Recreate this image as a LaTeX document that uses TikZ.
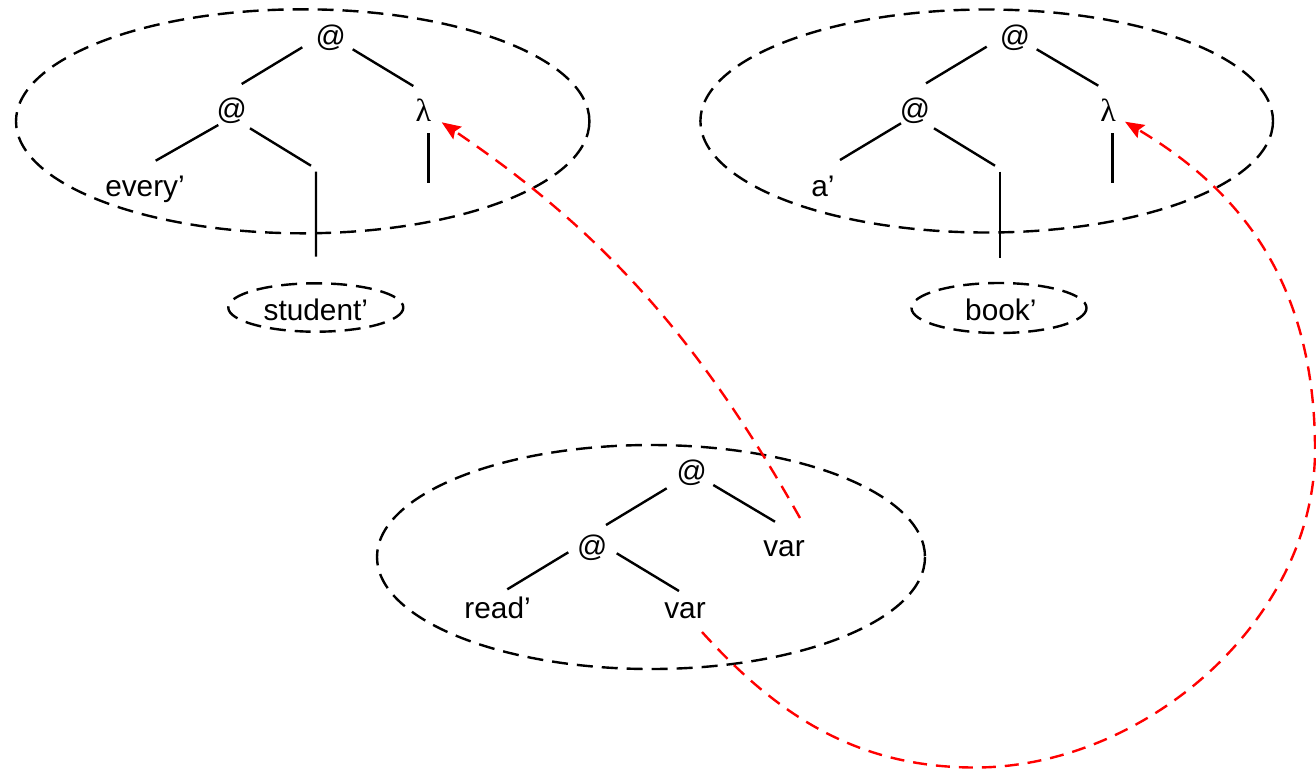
\documentclass[tikz,border=0pt]{standalone}
\usepackage{fontspec}
\setmainfont{Liberation Sans}
\newfontfamily\greekserif{Liberation Serif}
\usetikzlibrary{arrows.meta}

\begin{document}
\begin{tikzpicture}[x=0.5pt,y=-0.5pt,
  lbl/.style={anchor=base,inner sep=0pt,font=\fontsize{14.9}{17}\selectfont},
  lam/.style={anchor=base,inner sep=0pt,font=\fontsize{16}{18}\greekserif},
  branch/.style={line width=1.2pt},
  scopebox/.style={draw,line width=1.2pt,dash pattern=on 8pt off 4.5pt},
  bind/.style={draw=red,line width=1.2pt,dash pattern=on 7pt off 4.5pt,
    -{Stealth[length=9.5pt,width=7.5pt,inset=1.5pt]}}]
\path[use as bounding box] (0,0) rectangle (1316,772);

% ---------- every' student' ----------
\node[lbl] (Lr) at (330.8,46) {@};
\node[lbl] (La) at (231.7,119.5) {@};
\node[lam] (Ll) at (423.3,121) {λ};
\node[lbl] (Le) at (145,196.7) {every’};
\coordinate (Lh) at (316,170);
\node[lbl] (Ls) at (315.8,320.7) {student’};

\draw[branch] ([shift={(-28.5,1.3)}]Lr.base) -- ([shift={(10,-35.5)}]La.base);
\draw[branch] ([shift={(21.9,3.3)}]Lr.base) -- ([shift={(-10,-35)}]Ll.base);
\draw[branch] ([shift={(-13.4,5.5)}]La.base) -- ([shift={(10.7,-36)}]Le.base);
\draw[branch] ([shift={(18.3,8.8)}]La.base) -- ([shift={(-5,-4.3)}]Lh);
\draw[branch] ([shift={(0,1.7)}]Lh) -- ([shift={(0.2,-64)}]Ls.base);
\draw[branch] ([shift={(5,12.3)}]Ll.base) -- ++(0,50);

\draw[scopebox] (302.7,121.3) ellipse [x radius=286.7, y radius=112];
\draw[scopebox] ([shift={(0,-13.2)}]Ls.base) ellipse [x radius=87.5, y radius=24.2];

% ---------- a' book' ----------
\node[lbl] (Rr) at (1015,46) {@};
\node[lbl] (Ra) at (915,119.5) {@};
\node[lam] (Rl) at (1108,121) {λ};
\node[lbl] (Re) at (823,196.7) {a’};
\coordinate (Rh) at (1000,170);
\node[lbl] (Rs) at (1000.8,320) {book’};

\draw[branch] ([shift={(-28.3,0.7)}]Rr.base) -- ([shift={(11,-36.2)}]Ra.base);
\draw[branch] ([shift={(21.7,3.3)}]Rr.base) -- ([shift={(-9.7,-35.3)}]Rl.base);
\draw[branch] ([shift={(-14,3.8)}]Ra.base) -- ([shift={(17,-36.7)}]Re.base);
\draw[branch] ([shift={(19,8.8)}]Ra.base) -- ([shift={(-5,-4.3)}]Rh);
\draw[branch] ([shift={(0,1.7)}]Rh) -- ([shift={(-0.8,-61.7)}]Rs.base);
\draw[branch] ([shift={(4.3,12.3)}]Rl.base) -- ++(0,50);

\draw[scopebox] (986.7,121) ellipse [x radius=286.3, y radius=111.5];
\draw[scopebox] ([shift={(-1.8,-12)}]Rs.base) ellipse [x radius=87.5, y radius=25];

% ---------- read' var var ----------
\node[lbl] (Br) at (691.7,481) {@};
\node[lbl] (Ba) at (592.2,556.5) {@};
\node[lbl] (Bv) at (784,556.7) {var};
\node[lbl] (Bd) at (497.6,618.3) {read’};
\node[lbl] (Bw) at (685,618.3) {var};

\draw[branch] ([shift={(-25,7.3)}]Br.base) -- ([shift={(13.8,-31.5)}]Ba.base);
\draw[branch] ([shift={(21.6,4)}]Br.base) -- ([shift={(-9,-35)}]Bv.base);
\draw[branch] ([shift={(-23.9,-4.2)}]Ba.base) -- ([shift={(9.7,-29)}]Bd.base);
\draw[branch] ([shift={(24.5,-3.2)}]Ba.base) -- ([shift={(-6,-27.3)}]Bw.base);

\draw[scopebox] (651,557) ellipse [x radius=274, y radius=112];

% ---------- variable bindings ----------
\draw[bind] ([shift={(16,-38.7)}]Bv.base) .. controls (702,344) and (607,234) .. ([shift={(18.4,1.3)}]Ll.base);
\draw[bind] ([shift={(17,13.7)}]Bw.base) .. controls (775.7,713.4) and (855,767.5) .. (975,767.5)
  .. controls (1145,767.5) and (1315,620) .. (1315,450)
  .. controls (1315,270) and (1228,183.4) .. ([shift={(17,0.7)}]Rl.base);
\end{tikzpicture}
\end{document}
